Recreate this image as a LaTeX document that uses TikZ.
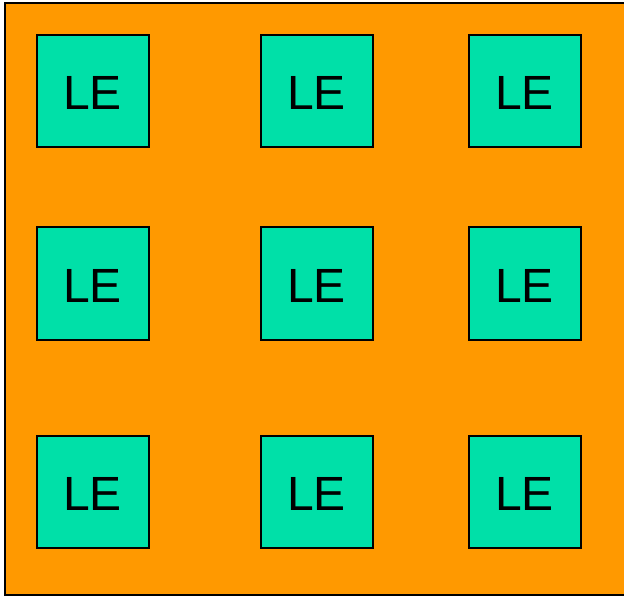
\documentclass[tikz,border=0pt]{standalone}
\usepackage{fontspec}
\setmainfont{Liberation Sans}
\definecolor{bgorange}{HTML}{FF9900}
\definecolor{leteal}{HTML}{00E0A8}
\begin{document}
\begin{tikzpicture}[x=1pt,y=-1pt,
  lebox/.style={draw=black,line width=2pt,fill=leteal,minimum width=112pt,minimum height=112pt,inner sep=0pt,text height=37pt,text depth=0pt,font=\fontsize{48}{48}\selectfont}]
\useasboundingbox (0,0) rectangle (624,596);
\draw[fill=bgorange,line width=2pt] (5,3) rectangle (628,595);
\node[lebox] (a1) at (92.5,91.5) {LE};
\node[lebox] (a2) at (316.5,91.5) {LE};
\node[lebox] (a3) at (524.5,91.5) {LE};
\node[lebox] (b1) at (92.5,283.5) {LE};
\node[lebox] (b2) at (316.5,283.5) {LE};
\node[lebox] (b3) at (524.5,283.5) {LE};
\node[lebox] (c1) at (92.5,491.5) {LE};
\node[lebox] (c2) at (316.5,491.5) {LE};
\node[lebox] (c3) at (524.5,491.5) {LE};
\end{tikzpicture}
\end{document}
